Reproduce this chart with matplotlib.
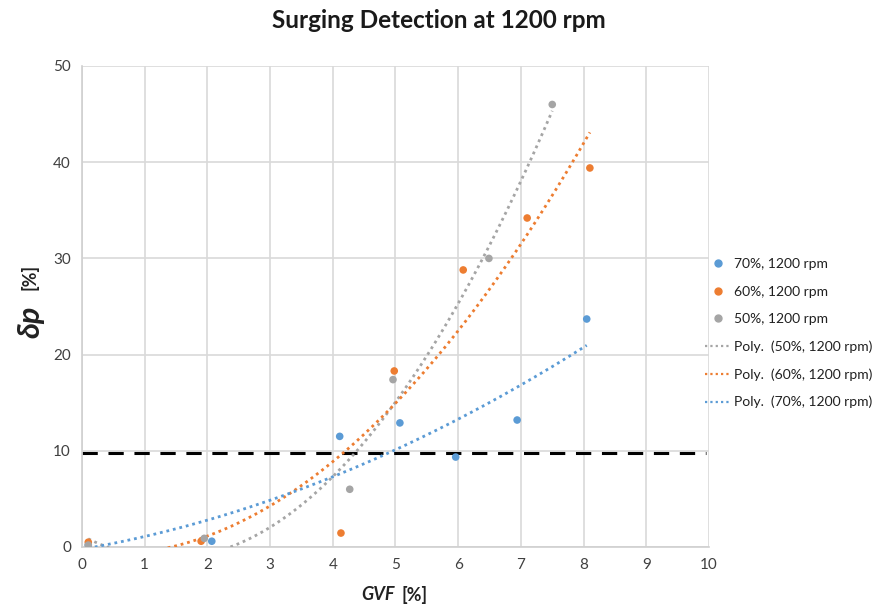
import numpy as np
import matplotlib
matplotlib.use("Agg")
import matplotlib.pyplot as plt
from matplotlib.lines import Line2D

plt.rcParams['font.family'] = ['Lato', 'DejaVu Sans']

# Data
x70 = [0.1, 2.07, 4.11, 5.07, 5.96, 6.94, 8.05]
y70 = [0.2, 0.6, 11.5, 12.9, 9.35, 13.2, 23.7]
x60 = [0.1, 1.9, 4.13, 4.98, 6.08, 7.1, 8.1]
y60 = [0.5, 0.6, 1.45, 18.3, 28.8, 34.2, 39.4]
x50 = [0.1, 1.95, 4.27, 4.96, 6.49, 7.5]
y50 = [0.2, 0.9, 6.0, 17.4, 30.0, 46.0]
threshold = 9.8

c70 = '#5B9BD5'
c60 = '#ED7D31'
c50 = '#A5A5A5'

fig = plt.figure(figsize=(8.78, 6.10), dpi=100)
ax = fig.add_axes([82/878, 1-547/610, (709-82)/878, (547-66)/610])

ax.set_xlim(0, 10)
ax.set_ylim(0, 50)
ax.set_xticks(range(0, 11))
ax.set_yticks(range(0, 51, 10))
ax.grid(True, color='#D9D9D9', linewidth=1.2)
ax.set_axisbelow(True)
for s in ['top', 'right']:
    ax.spines[s].set_visible(False)
for s in ['left', 'bottom']:
    ax.spines[s].set_color('#D0D0D0')
    ax.spines[s].set_linewidth(1.2)
ax.tick_params(length=0, labelsize=11, colors='#404040', pad=8)

ax.axhline(threshold, xmin=0, xmax=0.995, color='black', linestyle=(0, (5, 3.5)), linewidth=2.2, zorder=2)

dot = (0, (1, 1.4))

def trend(xs, ys, c):
    p = np.polyfit(xs, ys, 2)
    xx = np.linspace(min(xs), max(xs), 300)
    ax.plot(xx, np.polyval(p, xx), color=c, linestyle=dot, linewidth=2.0, zorder=3)

trend(x50, y50, c50)
trend(x60, y60, c60)
trend(x70, y70, c70)

ax.scatter(x70, y70, s=30, color=c70, zorder=4, edgecolors='none')
ax.scatter(x60, y60, s=30, color=c60, zorder=4, edgecolors='none')
ax.scatter(x50, y50, s=30, color=c50, zorder=4, edgecolors='none')

handles = [
    Line2D([], [], marker='o', linestyle='none', color=c70, markersize=5),
    Line2D([], [], marker='o', linestyle='none', color=c60, markersize=5),
    Line2D([], [], marker='o', linestyle='none', color=c50, markersize=5),
    Line2D([], [], color=c50, linestyle=dot, linewidth=1.6),
    Line2D([], [], color=c60, linestyle=dot, linewidth=1.6),
    Line2D([], [], color=c70, linestyle=dot, linewidth=1.6),
]
labels = ['70%, 1200 rpm', '60%, 1200 rpm', '50%, 1200 rpm',
          'Poly.  (50%, 1200 rpm)', 'Poly.  (60%, 1200 rpm)', 'Poly.  (70%, 1200 rpm)']
fig.legend(handles, labels, loc='upper left', bbox_to_anchor=(697/878, 1-250/610),
           frameon=False, fontsize=10, handlelength=1.8, handletextpad=0.3,
           labelspacing=1.1, labelcolor='#202020', borderaxespad=0.2)

fig.text(0.5, 1-20/610, 'Surging Detection at 1200 rpm', ha='center', va='center',
         fontsize=17.5, fontweight='bold', color='#1a1a1a')

fig.text(395/878, 1-595/610, 'GVF', ha='right', va='center', fontsize=13,
         fontweight='bold', fontstyle='italic', color='#222222')
fig.text(402/878, 1-595/610, '[%]', ha='left', va='center', fontsize=13,
         fontweight='bold', color='#222222')

fig.text(30/878, 1-322/610, 'δp', ha='center', va='center', fontsize=22,
         fontweight='bold', fontstyle='italic', rotation=90, color='#222222')
fig.text(30/878, 1-277/610, '[%]', ha='center', va='center', fontsize=13,
         fontweight='bold', rotation=90, color='#222222')

fig.savefig('out.png', dpi=100)
